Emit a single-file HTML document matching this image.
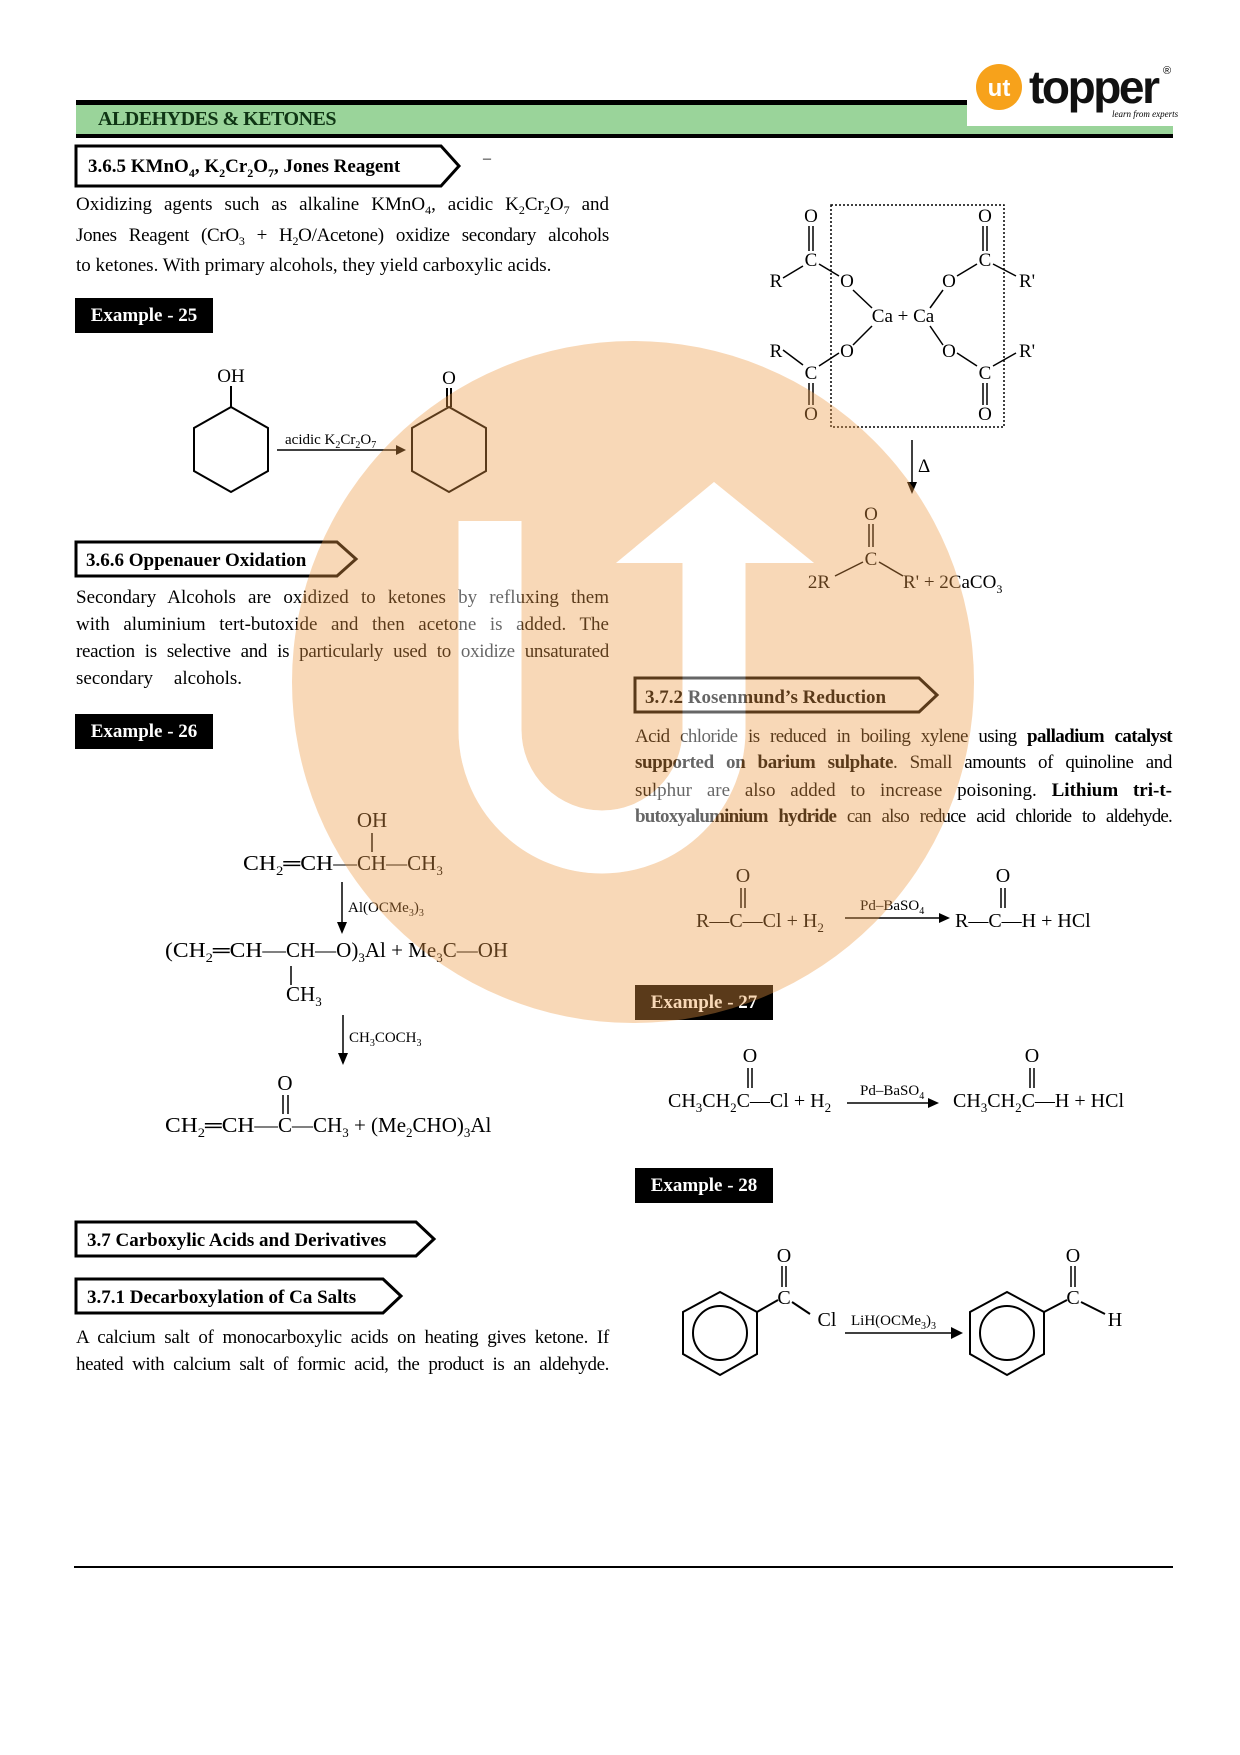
<!DOCTYPE html>
<html><head><meta charset="utf-8">
<style>
body{margin:0;background:#fff;}
#pg{position:relative;width:1240px;height:1755px;overflow:hidden;background:#fff;font-family:"Liberation Serif",serif;color:#000;}
.ln{position:absolute;white-space:nowrap;font-size:19px;line-height:22px;text-align:justify;text-align-last:justify;}
.ln sub{font-size:12px;vertical-align:-4px;line-height:0;}
.ex{position:absolute;background:#000;color:#fff;font-weight:bold;font-size:19px;text-align:center;width:138px;height:35px;line-height:35px;}
svg{position:absolute;left:0;top:0;}
</style></head><body><div id="pg">

<svg width="1240" height="1755" font-family="Liberation Serif, serif">
<!-- header -->
<rect x="76" y="100" width="891" height="5" fill="#000"/>
<rect x="76" y="105" width="891" height="29" fill="#9ad49a"/>
<rect x="967" y="126" width="206" height="8" fill="#9ad49a"/>
<rect x="76" y="134" width="1097" height="4" fill="#000"/>
<text x="98" y="125" font-size="20" font-weight="bold" fill="#0f3514" letter-spacing="-0.5">ALDEHYDES &amp; KETONES</text>
<circle cx="999" cy="87" r="23" fill="#f7a21b"/>
<text x="999" y="96" font-family="Liberation Sans, sans-serif" font-size="24" font-weight="bold" fill="#fff" text-anchor="middle">ut</text>
<text x="1029" y="103" font-family="Liberation Sans, sans-serif" font-size="46" font-weight="bold" fill="#111" textLength="131">topper</text>
<text x="1163" y="74" font-family="Liberation Sans, sans-serif" font-size="11">®</text>
<text x="1112" y="117" font-size="9" font-style="italic">learn from experts</text>

<!-- section headings -->
<g fill="#fff" stroke="#000" stroke-width="3">
<polygon points="76,146 441,146 459,166 441,186 76,186"/>
<polygon points="76,542 337,542 356,559 337,576 76,576"/>
<polygon points="76,1222 416,1222 434,1239 416,1256 76,1256"/>
<polygon points="76,1279 383,1279 401,1296 383,1313 76,1313"/>
<polygon points="635,678 919,678 937,695 919,712 635,712"/>
</g>
<g font-size="19" font-weight="bold">
<text x="88" y="172">3.6.5 KMnO<tspan font-size="12" dy="5">4</tspan><tspan dy="-5">, K</tspan><tspan font-size="12" dy="5">2</tspan><tspan dy="-5">Cr</tspan><tspan font-size="12" dy="5">2</tspan><tspan dy="-5">O</tspan><tspan font-size="12" dy="5">7</tspan><tspan dy="-5">, Jones Reagent</tspan></text>
<text x="86" y="566">3.6.6 Oppenauer Oxidation</text>
<text x="87" y="1246">3.7 Carboxylic Acids and Derivatives</text>
<text x="87" y="1303">3.7.1 Decarboxylation of Ca Salts</text>
<text x="645" y="703">3.7.2 Rosenmund’s Reduction</text>
</g>
<text x="483" y="163" font-size="16">–</text>

<!-- Example 25 chem -->
<g fill="none" stroke="#000" stroke-width="2">
<polygon points="231,407 268,428 268,471 231,492 194,471 194,428"/>
<line x1="231" y1="407" x2="231" y2="386"/>
<polygon points="449,407 486,428 486,471 449,492 412,471 412,428"/>
<line x1="447" y1="407" x2="447" y2="388"/><line x1="451" y1="407" x2="451" y2="388"/>
<line x1="277" y1="450" x2="398" y2="450" stroke-width="1.5"/>
</g>
<polygon points="406,450 396,445 396,455"/>
<text x="231" y="382" font-size="19" text-anchor="middle">OH</text>
<text x="449" y="384" font-size="19" text-anchor="middle">O</text>
<text x="285" y="444" font-size="15">acidic K<tspan font-size="10" dy="4">2</tspan><tspan dy="-4">Cr</tspan><tspan font-size="10" dy="4">2</tspan><tspan dy="-4">O</tspan><tspan font-size="10" dy="4">7</tspan></text>

<!-- Example 26 chem -->
<g font-size="21">
<text x="372" y="827" text-anchor="middle">OH</text>
<line x1="372" y1="833" x2="372" y2="852" stroke="#000" stroke-width="1.5"/>
<text x="243" y="870" textLength="114" lengthAdjust="spacingAndGlyphs">CH<tspan font-size="13" dy="5">2</tspan><tspan dy="-5">═CH—</tspan></text>
<text x="357" y="870">CH—CH<tspan font-size="13" dy="5">3</tspan></text>
<line x1="342" y1="882" x2="342" y2="925" stroke="#000" stroke-width="1.5"/>
<polygon points="342,934 337,922 347,922"/>
<text x="348" y="912" font-size="15">Al(OCMe<tspan font-size="10" dy="4">3</tspan><tspan dy="-4">)</tspan><tspan font-size="10" dy="4">3</tspan></text>
<text x="165" y="957" textLength="121" lengthAdjust="spacingAndGlyphs">(CH<tspan font-size="13" dy="5">2</tspan><tspan dy="-5">═CH—</tspan></text>
<text x="286" y="957">CH—O)<tspan font-size="13" dy="5">3</tspan><tspan dy="-5">Al + Me</tspan><tspan font-size="13" dy="5">3</tspan><tspan dy="-5">C—OH</tspan></text>
<line x1="291" y1="966" x2="291" y2="985" stroke="#000" stroke-width="1.5"/>
<text x="286" y="1001">CH<tspan font-size="13" dy="5">3</tspan></text>
<line x1="343" y1="1015" x2="343" y2="1056" stroke="#000" stroke-width="1.5"/>
<polygon points="343,1065 338,1053 348,1053"/>
<text x="349" y="1042" font-size="15">CH<tspan font-size="10" dy="4">3</tspan><tspan dy="-4">COCH</tspan><tspan font-size="10" dy="4">3</tspan></text>
<text x="285" y="1090" text-anchor="middle">O</text>
<line x1="283" y1="1095" x2="283" y2="1114" stroke="#000" stroke-width="1.5"/><line x1="288" y1="1095" x2="288" y2="1114" stroke="#000" stroke-width="1.5"/>
<text x="165" y="1132" textLength="113" lengthAdjust="spacingAndGlyphs">CH<tspan font-size="13" dy="5">2</tspan><tspan dy="-5">═CH—</tspan></text>
<text x="278" y="1132">C—CH<tspan font-size="13" dy="5">3</tspan><tspan dy="-5"> + (Me</tspan><tspan font-size="13" dy="5">2</tspan><tspan dy="-5">CHO)</tspan><tspan font-size="13" dy="5">3</tspan><tspan dy="-5">Al</tspan></text>
</g>

<!-- Ca salts -->
<rect x="831" y="205" width="173" height="222" fill="none" stroke="#000" stroke-width="1.5" stroke-dasharray="2,2"/>
<g font-size="19" text-anchor="middle">
<text x="811" y="222">O</text><text x="811" y="266">C</text><text x="776" y="287">R</text><text x="847" y="287">O</text>
<text x="985" y="222">O</text><text x="985" y="266">C</text><text x="1027" y="287">R'</text><text x="949" y="287">O</text>
<text x="776" y="357">R</text><text x="847" y="357">O</text><text x="811" y="379">C</text><text x="811" y="420">O</text>
<text x="1027" y="357">R'</text><text x="949" y="357">O</text><text x="985" y="379">C</text><text x="985" y="420">O</text>
<text x="903" y="322">Ca + Ca</text>
<text x="871" y="520">O</text><text x="871" y="565">C</text>
</g>
<g stroke="#000" stroke-width="1.5">
<line x1="809" y1="226" x2="809" y2="251"/><line x1="813" y1="226" x2="813" y2="251"/>
<line x1="983" y1="226" x2="983" y2="251"/><line x1="987" y1="226" x2="987" y2="251"/>
<line x1="809" y1="383" x2="809" y2="405"/><line x1="813" y1="383" x2="813" y2="405"/>
<line x1="983" y1="383" x2="983" y2="405"/><line x1="987" y1="383" x2="987" y2="405"/>
<line x1="803" y1="266" x2="783" y2="278"/><line x1="819" y1="264" x2="839" y2="276"/>
<line x1="993" y1="264" x2="1016" y2="276"/><line x1="977" y1="264" x2="957" y2="276"/>
<line x1="783" y1="350" x2="803" y2="365"/><line x1="839" y1="353" x2="819" y2="366"/>
<line x1="1016" y1="353" x2="993" y2="366"/><line x1="957" y1="353" x2="977" y2="366"/>
<line x1="853" y1="290" x2="872" y2="308"/><line x1="853" y1="345" x2="872" y2="326"/>
<line x1="943" y1="290" x2="930" y2="308"/><line x1="943" y1="345" x2="930" y2="326"/>
<line x1="912" y1="440" x2="912" y2="485"/>
<line x1="869" y1="524" x2="869" y2="547"/><line x1="873" y1="524" x2="873" y2="547"/>
<line x1="863" y1="562" x2="835" y2="576"/><line x1="879" y1="562" x2="903" y2="576"/>
</g>
<polygon points="912,494 907,482 917,482"/>
<text x="918" y="472" font-size="19">Δ</text>
<text x="819" y="588" font-size="19" text-anchor="middle">2R</text>
<text x="903" y="588" font-size="19">R' + 2CaCO<tspan font-size="12" dy="5">3</tspan></text>

<!-- Rosenmund -->
<g font-size="20">
<text x="743" y="882" text-anchor="middle">O</text>
<text x="696" y="927">R—C—Cl + H<tspan font-size="13" dy="5">2</tspan></text>
<text x="1003" y="882" text-anchor="middle">O</text>
<text x="955" y="927">R—C—H + HCl</text>
<text x="750" y="1062" text-anchor="middle">O</text>
<text x="668" y="1107">CH<tspan font-size="13" dy="5">3</tspan><tspan dy="-5">CH</tspan><tspan font-size="13" dy="5">2</tspan><tspan dy="-5">C—Cl + H</tspan><tspan font-size="13" dy="5">2</tspan></text>
<text x="1032" y="1062" text-anchor="middle">O</text>
<text x="953" y="1107">CH<tspan font-size="13" dy="5">3</tspan><tspan dy="-5">CH</tspan><tspan font-size="13" dy="5">2</tspan><tspan dy="-5">C—H + HCl</tspan></text>
</g>
<g stroke="#000" stroke-width="1.5">
<line x1="741" y1="888" x2="741" y2="908"/><line x1="745" y1="888" x2="745" y2="908"/>
<line x1="1001" y1="888" x2="1001" y2="908"/><line x1="1005" y1="888" x2="1005" y2="908"/>
<line x1="748" y1="1068" x2="748" y2="1088"/><line x1="752" y1="1068" x2="752" y2="1088"/>
<line x1="1030" y1="1068" x2="1030" y2="1088"/><line x1="1034" y1="1068" x2="1034" y2="1088"/>
<line x1="845" y1="918" x2="942" y2="918"/>
<line x1="847" y1="1103" x2="931" y2="1103"/>
<line x1="845" y1="1333" x2="954" y2="1333"/>
</g>
<polygon points="950,918 939,913 939,923"/>
<polygon points="939,1103 928,1098 928,1108"/>
<polygon points="963,1333 951,1327 951,1339"/>
<text x="860" y="910" font-size="15">Pd–BaSO<tspan font-size="10" dy="4">4</tspan></text>
<text x="860" y="1095" font-size="15">Pd–BaSO<tspan font-size="10" dy="4">4</tspan></text>

<!-- Example 28 -->
<g fill="none" stroke="#000" stroke-width="2">
<polygon points="720,1292 757,1312 757,1354 720,1375 683,1354 683,1312"/>
<circle cx="720" cy="1333" r="27"/>
<polygon points="1007,1292 1044,1312 1044,1354 1007,1375 970,1354 970,1312"/>
<circle cx="1007" cy="1333" r="27"/>
<line x1="757" y1="1312" x2="778" y2="1300"/>
<line x1="1044" y1="1312" x2="1067" y2="1300"/>
<line x1="792" y1="1302" x2="810" y2="1314"/>
<line x1="1081" y1="1302" x2="1105" y2="1314"/>
<line x1="782" y1="1266" x2="782" y2="1287" stroke-width="1.5"/><line x1="786" y1="1266" x2="786" y2="1287" stroke-width="1.5"/>
<line x1="1071" y1="1266" x2="1071" y2="1287" stroke-width="1.5"/><line x1="1075" y1="1266" x2="1075" y2="1287" stroke-width="1.5"/>
</g>
<g font-size="20" text-anchor="middle">
<text x="784" y="1262">O</text><text x="784" y="1304">C</text><text x="827" y="1326">Cl</text>
<text x="1073" y="1262">O</text><text x="1073" y="1304">C</text><text x="1115" y="1326">H</text>
</g>
<text x="851" y="1325" font-size="15">LiH(OCMe<tspan font-size="10" dy="4">3</tspan><tspan dy="-4">)</tspan><tspan font-size="10" dy="4">3</tspan></text>

<rect x="74" y="1566" width="1099" height="2" fill="#000"/>
</svg>

<div class="ex" style="left:75px;top:298px">Example - 25</div>
<div class="ex" style="left:75px;top:714px">Example - 26</div>
<div class="ex" style="left:635px;top:985px">Example - 27</div>
<div class="ex" style="left:635px;top:1168px">Example - 28</div>

<div class="ln" style="left:76px;top:194px;width:533px">Oxidizing agents such as alkaline KMnO<sub>4</sub>, acidic K<sub>2</sub>Cr<sub>2</sub>O<sub>7</sub> and</div>
<div class="ln" style="left:76px;top:225px;width:533px;letter-spacing:-0.3px">Jones Reagent (CrO<sub>3</sub> + H<sub>2</sub>O/Acetone) oxidize secondary alcohols</div>
<div class="ln" style="left:76px;top:255px;text-align-last:left">to ketones. With primary alcohols, they yield carboxylic acids.</div>

<div class="ln" style="left:76px;top:587px;width:533px">Secondary Alcohols are oxidized to ketones by refluxing them</div>
<div class="ln" style="left:76px;top:614px;width:533px">with aluminium tert-butoxide and then acetone is added. The</div>
<div class="ln" style="left:76px;top:641px;width:533px;letter-spacing:-0.3px">reaction is selective and is particularly used to oxidize unsaturated</div>
<div class="ln" style="left:76px;top:668px;width:166px">secondary alcohols.</div>

<div class="ln" style="left:635px;top:726px;width:537px;letter-spacing:-0.6px">Acid chloride is reduced in boiling xylene using <b>palladium catalyst</b></div>
<div class="ln" style="left:635px;top:752px;width:537px;letter-spacing:-0.4px"><b>supported on barium sulphate</b>. Small amounts of quinoline and</div>
<div class="ln" style="left:635px;top:780px;width:537px">sulphur are also added to increase poisoning. <b>Lithium tri-t-</b></div>
<div class="ln" style="left:635px;top:806px;width:537px;letter-spacing:-0.8px"><b>butoxyaluminium hydride</b> can also reduce acid chloride to aldehyde.</div>

<div class="ln" style="left:76px;top:1327px;width:533px;letter-spacing:-0.3px">A calcium salt of monocarboxylic acids on heating gives ketone. If</div>
<div class="ln" style="left:76px;top:1354px;width:533px;letter-spacing:-0.4px">heated with calcium salt of formic acid, the product is an aldehyde.</div>

<!-- watermark overlay -->
<svg width="1240" height="1755" style="pointer-events:none">
<defs>
<mask id="m">
<rect width="1240" height="1755" fill="#fff"/>
<path d="M490,521 L490,730 A112,112 0 0 0 714,730 L714,540" fill="none" stroke="#000" stroke-width="63"/>
<polygon points="714,482 814,563 616,563" fill="#000"/>
</mask>
</defs>
<circle cx="633" cy="682" r="341" fill="#ed9a45" opacity="0.38" mask="url(#m)"/>
<g opacity="0.4" fill="#fff">
<path d="M490,521 L490,730 A112,112 0 0 0 714,730 L714,540" fill="none" stroke="#fff" stroke-width="63"/>
<polygon points="714,482 814,563 616,563"/>
</g>
</svg>
</div></body></html>
